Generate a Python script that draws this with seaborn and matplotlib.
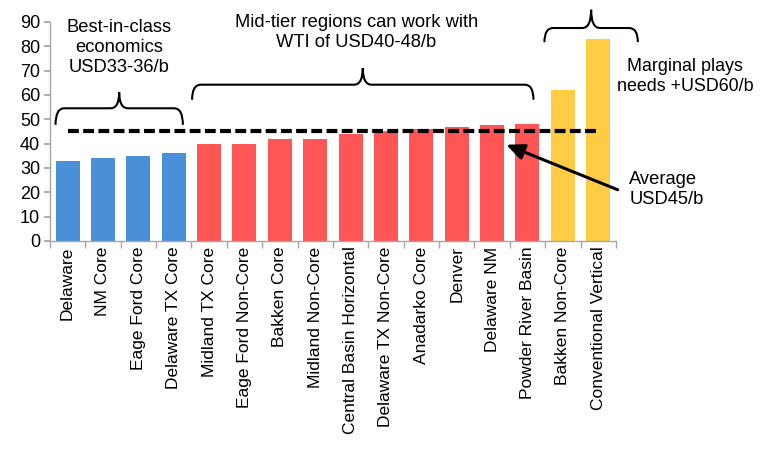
import matplotlib
matplotlib.use("Agg")
import matplotlib.pyplot as plt
from matplotlib.path import Path
from matplotlib.patches import PathPatch
import seaborn as sns
import pandas as pd

regions = ["Delaware", "NM Core", "Eage Ford Core", "Delaware TX Core",
           "Midland TX Core", "Eage Ford Non-Core", "Bakken Core", "Midland Non-Core",
           "Central Basin Horizontal", "Delaware TX Non-Core", "Anadarko Core", "Denver",
           "Delaware NM", "Powder River Basin", "Bakken Non-Core", "Conventional Vertical"]
breakeven = [33, 34, 35, 36,
             40, 40, 42, 42, 44, 45, 46, 47, 47.5, 48,
             62, 83]
tier = ["best"] * 4 + ["mid"] * 10 + ["marginal"] * 2
average = 45
yticks = list(range(0, 91, 10))

palette = {"best": "#4A90D9", "mid": "#FF5555", "marginal": "#FFCC44"}

sns.set_theme(style="white")
plt.rcParams["font.family"] = ["Liberation Sans", "DejaVu Sans"]

df = pd.DataFrame({"region": regions, "value": breakeven, "tier": tier})

fig = plt.figure(figsize=(7.67, 4.57), dpi=100)
ax = fig.add_axes([0.065, 0.473, 0.738, 0.479])

sns.barplot(data=df, x="region", y="value", hue="tier", palette=palette,
            dodge=False, legend=False, width=0.68, saturation=1,
            linewidth=0, ax=ax)

ax.set_xlim(-0.5, len(regions) - 0.5)
ax.set_ylim(0, 90)
ax.set_yticks(yticks)
ax.set_xlabel("")
ax.set_ylabel("")

for s in ["top", "right"]:
    ax.spines[s].set_visible(False)
for s in ["left", "bottom"]:
    ax.spines[s].set_color("#A6A6A6")
    ax.spines[s].set_linewidth(1.0)

ax.tick_params(axis="y", which="major", left=True, length=4, color="#A6A6A6",
               labelsize=13, pad=3, labelcolor="black")
ax.set_xticks(range(len(regions)))
ax.set_xticklabels(regions, rotation=90, fontsize=12.5, color="black")
ax.tick_params(axis="x", which="major", bottom=False, length=0, pad=4)
ax.set_xticks([i - 0.5 for i in range(len(regions) + 1)], minor=True)
ax.tick_params(axis="x", which="minor", bottom=True, length=5, color="#A6A6A6")

# average breakeven line
ax.plot([0, len(regions) - 1], [average, average], color="black", lw=3,
        ls=(0, (2.6, 1.05)), zorder=5)


def brace(x0, x1, y_tip, y_bar, y_peak):
    xm = (x0 + x1) / 2
    r = 0.25
    verts = [(x0, y_tip), (x0, y_bar), (x0 + r, y_bar),
             (xm - r, y_bar), (xm, y_bar), (xm, y_peak),
             (xm, y_peak), (xm, y_bar), (xm + r, y_bar),
             (x1 - r, y_bar), (x1, y_bar), (x1, y_tip)]
    codes = [Path.MOVETO, Path.CURVE3, Path.CURVE3,
             Path.LINETO, Path.CURVE3, Path.CURVE3,
             Path.MOVETO, Path.CURVE3, Path.CURVE3,
             Path.LINETO, Path.CURVE3, Path.CURVE3]
    ax.add_patch(PathPatch(Path(verts, codes), fill=False, lw=1.5,
                           color="black", clip_on=False, zorder=6))


brace(-0.34, 3.26, 47.7, 54.5, 61)
brace(3.52, 13.17, 58, 64.2, 71)
brace(13.48, 16.12, 81.7, 87.5, 95)

txt = dict(fontsize=13.2, color="black", ha="center", va="center",
           linespacing=1.22, clip_on=False)
ax.text(1.45, 79.4, "Best-in-class\neconomics\nUSD33-36/b", **txt)
ax.text(8.16, 85.6, "Mid-tier regions can work with\nWTI of USD40-48/b", **txt)
ax.text(17.45, 67.5, "Marginal plays\nneeds +USD60/b", **dict(txt, fontsize=12.9))
ax.text(15.88, 21, "Average\nUSD45/b", fontsize=13.2, color="black", ha="left",
        va="center", linespacing=1.22, clip_on=False)

ax.annotate("", xy=(12.4, 39.5), xytext=(15.55, 21),
            arrowprops=dict(arrowstyle="-|>,head_length=0.9,head_width=0.4",
                            color="black", lw=2.2, shrinkA=0, shrinkB=0),
            annotation_clip=False, zorder=7)

fig.savefig("out.png", dpi=100)
